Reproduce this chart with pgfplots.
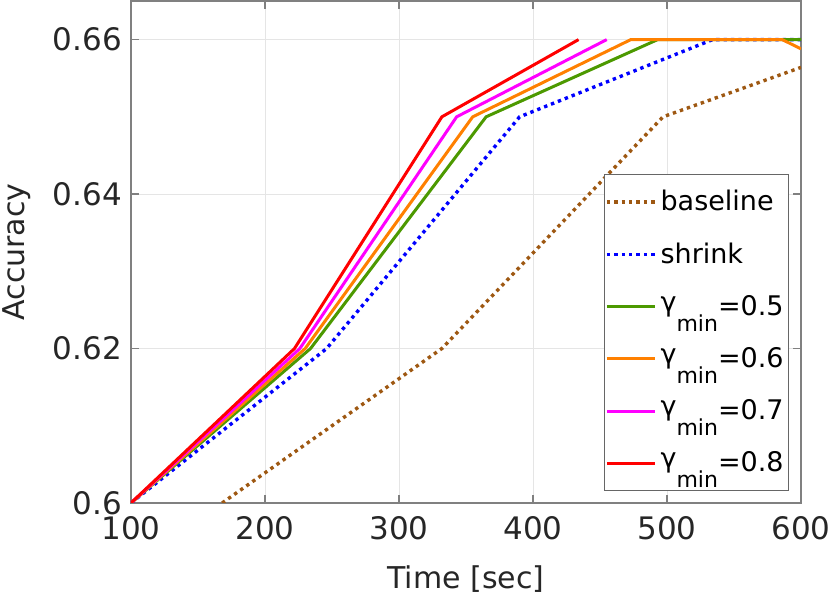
\documentclass[border=0pt]{standalone}
\usepackage{pgfplots}
\pgfplotsset{compat=1.18}
\usepackage{fontspec}
\setmainfont{DejaVu Sans}
\definecolor{cbase}{RGB}{158,88,18}
\definecolor{cshrink}{RGB}{0,0,255}
\definecolor{cg5}{RGB}{76,153,0}
\definecolor{cg6}{RGB}{255,128,0}
\definecolor{cg7}{RGB}{255,0,255}
\definecolor{cg8}{RGB}{255,0,0}
\definecolor{txt}{RGB}{38,38,38}
\newcommand{\gm}[1]{\raisebox{2pt}{γ}\raisebox{-8pt}{\fontsize{11}{12}\selectfont min}=#1}
\begin{document}
\begin{tikzpicture}
\begin{axis}[
  scale only axis, width=335pt, height=251pt,
  xmin=100, xmax=600, ymin=0.6, ymax=0.665,
  xtick={100,200,300,400,500,600},
  xticklabels={100,200,300,400,500,600},
  ytick={0.6,0.62,0.64,0.66},
  yticklabels={0.6,0.62,0.64,0.66},
  tick align=inside, xtick pos=both, ytick pos=both,
  major tick length=4pt,
  grid=major, grid style={color=black!10, line width=0.4pt},
  axis line style={color=black!50, line width=0.6pt},
  tick style={color=black!50, line width=0.6pt},
  ticklabel style={font=\fontsize{15.5}{16}\selectfont, text=txt},
  xticklabel style={yshift=-3pt},
  yticklabel style={xshift=-1pt},
  label style={font=\fontsize{15}{16}\selectfont, text=txt},
  xlabel={Time [sec]}, ylabel={Accuracy},
  xlabel style={yshift=-6pt},
  ylabel style={yshift=4pt},
  legend cell align=left,
  legend style={at={(rel axis cs:1,0)}, anchor=south east, xshift=-6pt, yshift=6pt,
    draw=black!60, font=\fontsize{13.5}{14}\selectfont, text=black,
    row sep=10.5pt, inner xsep=0.5pt, inner ysep=6pt},
  legend image code/.code={\draw[#1] (0pt,0pt) -- (24pt,0pt);},
]
\coordinate (bl) at (rel axis cs:0,0);
\coordinate (tr) at (rel axis cs:1,1);
\addplot[cbase, dotted, line width=1.7pt] coordinates {(168,0.6) (332,0.62) (497,0.65) (600,0.6564)};
\addlegendentry{baseline}
\addplot[cshrink, dotted, line width=1.7pt] coordinates {(100,0.6) (246,0.62) (390,0.65) (534,0.66) (600,0.66)};
\addlegendentry{shrink}
\addplot[cg5, line width=1.5pt] coordinates {(100,0.6) (234,0.62) (365,0.65) (493,0.66) (600,0.66)};
\addlegendentry{\gm{0.5}}
\addplot[cg6, line width=1.5pt] coordinates {(100,0.6) (230,0.62) (355,0.65) (473,0.66) (586,0.66) (600,0.6588)};
\addlegendentry{\gm{0.6}}
\addplot[cg7, line width=1.5pt] coordinates {(100,0.6) (226,0.62) (343,0.65) (455,0.66)};
\addlegendentry{\gm{0.7}}
\addplot[cg8, line width=1.5pt] coordinates {(100,0.6) (222,0.62) (332,0.65) (434,0.66)};
\addlegendentry{\gm{0.8}}
\end{axis}
\path (bl) ++(-65.5pt,-47.5pt) coordinate (A);
\path (tr) ++(14.5pt,0.5pt) coordinate (B);
\pgfresetboundingbox
\path[use as bounding box] (A) rectangle (B);
\end{tikzpicture}
\end{document}
